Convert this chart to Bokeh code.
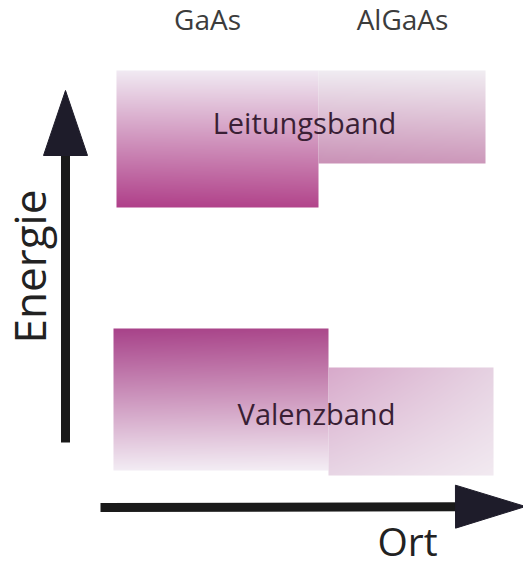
import numpy as np
from bokeh.plotting import figure
from bokeh.models import Range1d
from bokeh.embed import file_html
from bokeh.resources import INLINE
from bokeh.core.properties import value

PAGE_W = 523
PAGE_H = 566

def Y(py):
    return PAGE_H - np.asarray(py, dtype=float)

# ---- data (page pixel positions of the schematic) ----
regions = ["GaAs", "AlGaAs"]
region_label_x = [207, 402]
region_label_y = [18, 18]

# Leitungsband (conduction band) per region
cb_left = [116, 318]
cb_right = [318, 485]
cb_top = [70, 70]
cb_bottom = [207, 163]
# corner colours: top-left, top-right, bottom-left, bottom-right
cb_colors = [
    ["#f1eaf3", "#f1eaf3", "#b0408a", "#b3468c"],
    ["#f0ecf2", "#f1edf2", "#ca92b7", "#cd99bb"],
]

# Valenzband (valence band) per region
vb_left = [113, 328]
vb_right = [328, 493]
vb_top = [328, 367]
vb_bottom = [470, 475]
vb_colors = [
    ["#a8438a", "#ac4a8c", "#f3ecf4", "#f4eef5"],
    ["#d8aacb", "#e6d2e2", "#e8d6e5", "#f2eaf1"],
]

band_labels = ["Leitungsband", "Valenzband"]
band_label_x = [304, 316]
band_label_y = [122, 413]

# axis arrows: start, end (tip), head length, head width
arrow_x0 = [65, 100]
arrow_y0 = [442, 507]
arrow_x1 = [65, 525]
arrow_y1 = [90, 506]
arrow_head_len = [65, 70]
arrow_head_w = [44, 43]
axis_labels = ["Energie", "Ort"]
axis_label_x = [28, 407]
axis_label_y = [266, 540]


def hex2rgb(h):
    return np.array([int(h[i:i + 2], 16) for i in (1, 3, 5)], dtype=float)


def grad_img(w, h, cols):
    TL, TR, BL, BR = [hex2rgb(c) for c in cols]
    s = np.linspace(0, 1, w)[None, :, None]
    t = np.linspace(0, 1, h)[:, None, None]  # 0 bottom -> 1 top
    top = (1 - s) * TL + s * TR
    bot = (1 - s) * BL + s * BR
    rgb = (1 - t) * bot + t * top
    img = np.empty((h, w), dtype=np.uint32)
    v = img.view(dtype=np.uint8).reshape((h, w, 4))
    v[..., :3] = np.clip(rgb, 0, 255).astype(np.uint8)
    v[..., 3] = 255
    return img


p = figure(width=PAGE_W, height=PAGE_H, output_backend="svg", toolbar_location=None,
           x_range=Range1d(0, PAGE_W), y_range=Range1d(0, PAGE_H),
           x_axis_type=None, y_axis_type=None, min_border=0,
           background_fill_color="white", border_fill_color="white",
           outline_line_color=None)
p.grid.visible = False

for L, R, T, B, cols in list(zip(cb_left, cb_right, cb_top, cb_bottom, cb_colors)) + \
        list(zip(vb_left, vb_right, vb_top, vb_bottom, vb_colors)):
    w = int(R - L)
    h = int(B - T)
    p.image_rgba(image=[grad_img(w, h, cols)], x=L, y=float(Y(B)), dw=w, dh=h)

# region labels
p.text(x=region_label_x, y=Y(region_label_y), text=regions,
       text_font=value("Open Sans"), text_font_size="28px", text_color="#3c3c3c",
       text_align="center", text_baseline="alphabetic")

# band labels
p.text(x=band_label_x, y=Y(band_label_y), text=band_labels,
       text_font=value("Open Sans"), text_font_size="29px", text_color="#3a1f35",
       text_align="center", text_baseline="alphabetic")

# arrows
for x0, y0, x1, y1, hl, hw in zip(arrow_x0, arrow_y0, arrow_x1, arrow_y1,
                                  arrow_head_len, arrow_head_w):
    dx, dy = x1 - x0, y1 - y0
    n = np.hypot(dx, dy)
    ux, uy = dx / n, dy / n
    bx, by = x1 - ux * hl, y1 - uy * hl
    px_, py_ = -uy, ux
    p.line([x0, bx + ux * 4], list(Y([y0, by + uy * 4])), line_width=9,
           line_color="#1a1a1a", line_cap="butt")
    xs = [x1, bx + px_ * hw / 2, bx - px_ * hw / 2]
    ys = [y1, by + py_ * hw / 2, by - py_ * hw / 2]
    p.patch(xs, list(Y(ys)), fill_color="#1e1c2a", line_color="#1e1c2a", line_width=1)

# axis labels
p.text(x=[axis_label_x[0]], y=Y([axis_label_y[0]]), text=[axis_labels[0]], angle=np.pi / 2,
       text_font=value("Open Sans"), text_font_size="44px", text_color="#222222",
       text_align="center", text_baseline="alphabetic")
p.text(x=[axis_label_x[1]], y=Y([axis_label_y[1]]), text=[axis_labels[1]],
       text_font=value("Open Sans"), text_font_size="39px", text_color="#222222",
       text_align="center", text_baseline="alphabetic")

open("out.html", "w").write(file_html(p, INLINE))
